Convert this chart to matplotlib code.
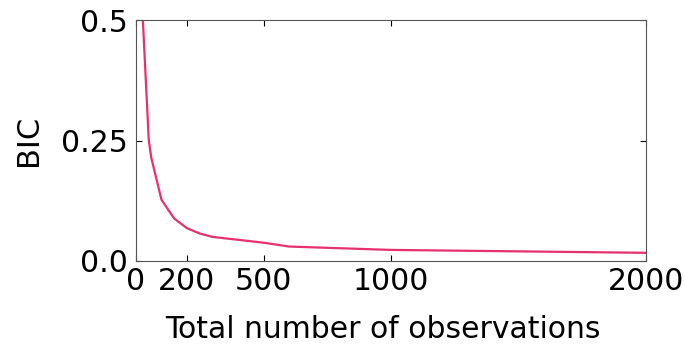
import matplotlib
matplotlib.use('Agg')
import matplotlib.pyplot as plt

# BIC against sample size
n_obs = [25, 50, 60, 100, 150, 200, 250, 300, 500, 600, 1000, 2000]
bic = [0.52, 0.251, 0.214, 0.127, 0.088, 0.068, 0.057, 0.050, 0.038, 0.030, 0.023, 0.017]

x_ticks = [0, 200, 500, 1000, 2000]
y_ticks = [0.0, 0.25, 0.5]
y_tick_labels = ['0.0', '0.25', '0.5']

plt.rcParams['font.family'] = 'DejaVu Sans'
fig = plt.figure(figsize=(6.85, 3.45), dpi=100)
ax = fig.add_axes([136 / 685, 1 - 261 / 345, 510 / 685, 241 / 345])

ax.plot(n_obs, bic, color='#e8306f', lw=1.6)
ax.set_xlim(0, 2000)
ax.set_ylim(0, 0.5)
ax.set_xticks(x_ticks)
ax.set_yticks(y_ticks)
ax.set_yticklabels(y_tick_labels)
ax.tick_params(direction='in', length=4, width=0.8, labelsize=21.5, top=True, right=True,
               labeltop=False, labelright=False)
ax.tick_params(axis='x', pad=4)
ax.tick_params(axis='y', pad=6)
ax.set_xlabel('Total number of observations', fontsize=21.5, labelpad=14)
ax.xaxis.label.set_x(0.485)
ax.set_ylabel('BIC', fontsize=22, labelpad=13)
for s in ax.spines.values():
    s.set_color('#555555')

fig.savefig('out.png', dpi=100)
